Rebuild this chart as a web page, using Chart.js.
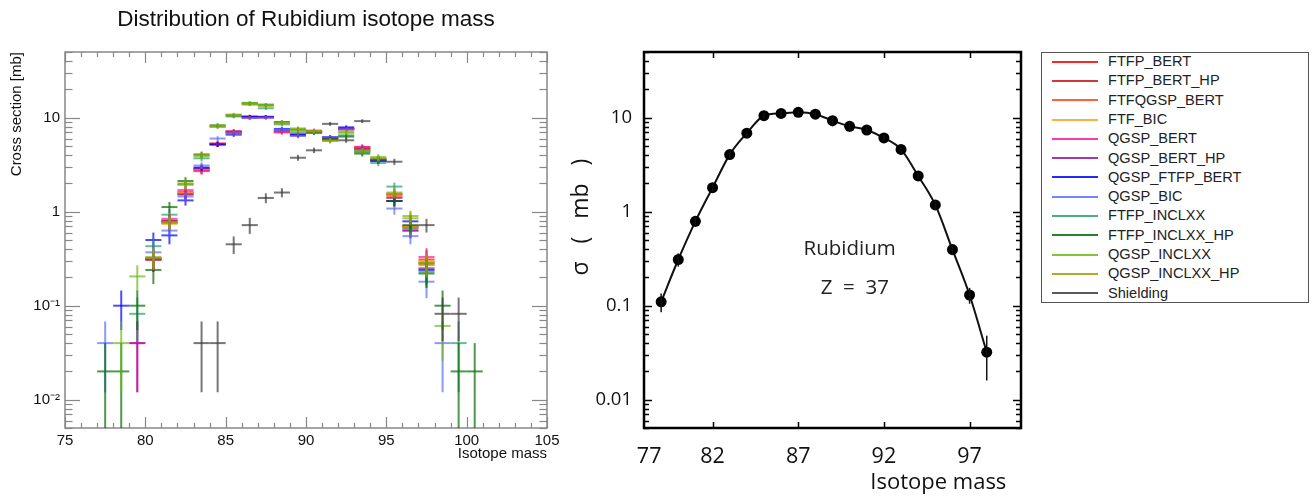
<!DOCTYPE html>
<html>
<head>
<meta charset="utf-8">
<script src="https://cdn.jsdelivr.net/npm/chart.js@4.4.1/dist/chart.umd.min.js"></script>
<style>
  body { margin: 0; width: 1312px; height: 499px; background: #fff; position: relative; overflow: hidden; }
  #left { position: absolute; left: 0; top: 0; }
  #right { position: absolute; left: 560px; top: 0; }
  #legend {
    position: absolute; left: 1041px; top: 52px; width: 268px; height: 251px;
    box-sizing: border-box; border: 1px solid #555;
    font-family: "Liberation Sans", Arial, sans-serif; font-size: 14.6px; color: #222;
  }
  #legend .row { position: absolute; left: 0; height: 19.3px; width: 100%; }
  #legend .swatch { position: absolute; left: 10px; top: 8.6px; width: 46px; height: 2px; }
  #legend .name { position: absolute; left: 66px; top: 0; line-height: 19.3px; white-space: nowrap; }
</style>
</head>
<body>
<canvas id="left" width="570" height="499"></canvas>
<canvas id="right" width="475" height="499"></canvas>
<div id="legend"></div>
<script>
// left panel: simulated Rb isotope distribution (bins centred on x.5)
const binCenters = [77.5, 78.5, 79.5, 80.5, 81.5, 82.5, 83.5, 84.5, 85.5, 86.5, 87.5, 88.5,
                    89.5, 90.5, 91.5, 92.5, 93.5, 94.5, 95.5, 96.5, 97.5, 98.5, 99.5, 100.5];
const binWidth = 1;

const ftfpBert       = [null,null,null,0.31,0.80,1.62,2.80,5.3,7.0,10.1,10.1,7.1,6.6,7.2,6.1,7.6,4.85,3.5,1.5,0.70,0.31,null,null,null];
const ftfpBertErr    = [null,null,null,0.08,0.13,0.18,0.24,0.33,0.37,0.45,0.45,0.38,0.36,0.38,0.35,0.39,0.31,0.26,0.17,0.12,0.08,null,null,null];
const ftfpBertHp     = [null,null,null,0.31,0.78,1.55,2.75,5.2,6.9,10.0,10.1,7.2,6.5,7.1,6.0,7.5,4.7,3.5,1.3,0.68,0.28,null,null,null];
const ftfpBertHpErr  = [null,null,null,0.08,0.12,0.18,0.23,0.32,0.37,0.45,0.45,0.38,0.36,0.38,0.35,0.39,0.31,0.26,0.16,0.12,0.07,null,null,null];
const ftfqgspBert    = [null,null,null,0.32,0.76,1.58,2.85,5.25,7.0,10.2,10.2,7.0,6.6,7.2,6.0,7.6,4.8,3.5,1.45,0.70,0.29,null,null,null];
const ftfqgspBertErr = [null,null,null,0.08,0.12,0.18,0.24,0.32,0.37,0.45,0.45,0.37,0.36,0.38,0.35,0.39,0.31,0.26,0.17,0.12,0.08,null,null,null];
const ftfBic         = [null,null,null,0.32,0.74,1.60,2.80,5.3,7.1,10.1,10.2,7.1,6.7,7.2,6.1,7.6,4.8,3.6,1.5,0.69,0.30,null,null,null];
const ftfBicErr      = [null,null,null,0.08,0.12,0.18,0.24,0.33,0.38,0.45,0.45,0.38,0.37,0.38,0.35,0.39,0.31,0.27,0.17,0.12,0.08,null,null,null];
const qgspBert       = [null,null,0.04,0.32,0.84,1.70,2.70,5.3,7.2,10.1,10.1,7.0,6.6,7.3,6.1,7.7,4.9,3.5,1.55,0.63,0.33,null,null,null];
const qgspBertErr    = [null,null,0.028,0.08,0.13,0.18,0.23,0.33,0.38,0.45,0.45,0.37,0.36,0.38,0.35,0.39,0.31,0.26,0.18,0.11,0.08,null,null,null];
const qgspBertHp     = [null,null,0.04,0.31,0.80,1.52,2.90,5.2,7.1,10.2,10.2,7.3,6.5,7.0,6.1,7.6,4.7,3.5,1.4,0.63,0.25,null,null,null];
const qgspBertHpErr  = [null,null,0.028,0.08,0.13,0.17,0.24,0.32,0.38,0.45,0.45,0.38,0.36,0.37,0.35,0.39,0.31,0.26,0.17,0.11,0.07,null,null,null];
const qgspFtfpBert   = [null,0.10,null,0.50,0.56,1.32,2.95,5.2,6.6,10.3,10.2,7.6,6.6,7.0,6.2,7.9,4.5,3.5,1.3,0.79,0.24,null,null,null];
const qgspFtfpBertErr= [null,0.045,null,0.10,0.11,0.16,0.24,0.32,0.36,0.45,0.45,0.39,0.36,0.37,0.35,0.40,0.30,0.26,0.16,0.13,0.07,null,null,null];
const qgspBic        = [0.04,null,null,0.37,0.63,1.45,3.1,6.0,6.8,9.9,10.0,7.4,6.4,7.0,6.2,7.5,4.4,3.6,1.08,0.55,0.18,0.04,null,null];
const qgspBicErr     = [0.028,null,null,0.09,0.11,0.17,0.25,0.35,0.37,0.44,0.45,0.38,0.36,0.37,0.35,0.39,0.30,0.27,0.15,0.10,0.06,0.028,null,null];
const ftfpInclxx     = [null,null,0.082,0.43,0.93,1.95,3.7,8.0,10.3,13.8,12.6,8.5,7.0,6.9,5.8,6.5,4.3,3.3,1.85,0.66,0.23,null,0.04,null];
const ftfpInclxxErr  = [null,null,0.04,0.09,0.14,0.20,0.27,0.40,0.45,0.53,0.50,0.41,0.37,0.37,0.34,0.36,0.29,0.26,0.19,0.11,0.07,null,0.028,null];
const ftfpInclxxHp   = [0.02,0.02,0.10,0.24,1.12,2.12,4.07,8.3,10.6,14.3,13.7,9.0,7.5,7.0,5.9,6.3,4.15,3.6,1.3,0.72,0.22,0.10,0.02,0.02];
const ftfpInclxxHpErr= [0.02,0.02,0.045,0.07,0.15,0.21,0.29,0.41,0.46,0.53,0.52,0.42,0.39,0.37,0.34,0.35,0.29,0.27,0.16,0.12,0.066,0.045,0.02,0.02];
const qgspInclxx     = [null,0.04,0.205,0.33,0.78,1.95,3.9,8.2,10.8,14.4,13.8,8.8,7.7,7.2,5.65,6.9,4.5,3.82,1.6,0.90,0.285,0.061,null,null];
const qgspInclxxErr  = [null,0.028,0.064,0.08,0.125,0.20,0.28,0.40,0.46,0.54,0.52,0.42,0.39,0.38,0.34,0.37,0.30,0.28,0.18,0.13,0.075,0.035,null,null];
const qgspInclxxHp   = [null,null,null,0.32,0.76,2.0,4.0,8.1,10.6,14.0,13.3,8.7,7.3,7.1,5.7,7.1,4.4,3.7,1.55,0.85,0.27,null,null,null];
const qgspInclxxHpErr= [null,null,null,0.08,0.12,0.20,0.28,0.40,0.46,0.53,0.52,0.42,0.38,0.38,0.34,0.38,0.30,0.27,0.18,0.13,0.07,null,null,null];
const shielding      = [null,null,null,null,null,null,0.04,0.04,0.45,0.72,1.4,1.6,3.75,4.5,8.6,5.75,9.2,null,3.4,null,0.72,0.082,0.082,null];
const shieldingErr   = [null,null,null,null,null,null,0.028,0.028,0.095,0.14,0.17,0.18,0.27,0.30,0.41,0.34,0.43,null,0.26,null,0.12,0.04,0.04,null];

const seriesNames = ["FTFP_BERT", "FTFP_BERT_HP", "FTFQGSP_BERT", "FTF_BIC", "QGSP_BERT", "QGSP_BERT_HP",
  "QGSP_FTFP_BERT", "QGSP_BIC", "FTFP_INCLXX", "FTFP_INCLXX_HP", "QGSP_INCLXX", "QGSP_INCLXX_HP", "Shielding"];
const seriesValues = [ftfpBert, ftfpBertHp, ftfqgspBert, ftfBic, qgspBert, qgspBertHp,
  qgspFtfpBert, qgspBic, ftfpInclxx, ftfpInclxxHp, qgspInclxx, qgspInclxxHp, shielding];
const seriesErrors = [ftfpBertErr, ftfpBertHpErr, ftfqgspBertErr, ftfBicErr, qgspBertErr, qgspBertHpErr,
  qgspFtfpBertErr, qgspBicErr, ftfpInclxxErr, ftfpInclxxHpErr, qgspInclxxErr, qgspInclxxHpErr, shieldingErr];
const seriesRgb = ["255,0,0", "200,20,20", "255,70,20", "255,160,30", "255,20,160", "150,20,160",
  "0,0,255", "90,110,255", "40,160,110", "0,110,0", "110,185,20", "160,160,0", "60,60,60"];

const leftXTicks = [75, 80, 85, 90, 95, 100, 105];
const leftYTicks = [0.01, 0.1, 1, 10];
const leftYLabels = ["10\u207B\u00B2", "10\u207B\u00B9", "1", "10"];

// right panel: measured cross sections
const rMass  = [79, 80, 81, 82, 83, 84, 85, 86, 87, 88, 89, 90, 91, 92, 93, 94, 95, 96, 97, 98];
const rSigma = [0.11, 0.31, 0.79, 1.8, 4.05, 6.85, 10.5, 11.1, 11.4, 10.9, 9.3, 8.1, 7.4, 6.1, 4.6, 2.4, 1.18, 0.395, 0.13, 0.032];
const rErr   = [0.025, 0.05, 0.1, 0.2, 0.35, 0.5, 0.7, 0.7, 0.7, 0.7, 1.2, 1.0, 0.6, 0.5, 0.4, 0.2, 0.13, 0.05, 0.025, 0.016];
const rXTickPos = [78.3, 82, 87, 92, 97];
const rXTickLabels = ["77", "82", "87", "92", "97"];
const rXMarks = [82, 87, 92, 97];
const rYTicks = [0.01, 0.1, 1, 10];
const rYLabels = ["0.01", "0.1", "1", "10"];
const noteText = ["Rubidium", "Z  =  37"];
const noteX = [90, 90.3];
const noteY = [0.395, 0.155];

const sans = '"Liberation Sans", Arial, sans-serif';
const rfont = '"Open Sans", "Liberation Sans", sans-serif';

// frame with inward ticks, ROOT style
const framePlugin = {
  id: "frame",
  afterDatasetsDraw(chart, args, o) {
    const { ctx, chartArea: a, scales: { x, y } } = chart;
    const seg = (x0, y0, x1, y1) => { ctx.beginPath(); ctx.moveTo(x0, y0); ctx.lineTo(x1, y1); ctx.stroke(); };
    ctx.save();
    ctx.strokeStyle = o.color;
    ctx.lineWidth = o.tickWidth;
    for (let d = 0.001; d < 100; d *= 10) {
      for (let k = 1; k < 10; k++) {
        const v = k * d;
        if (v < y.min * 0.999 || v > y.max * 1.001) continue;
        const py = Math.round(y.getPixelForValue(v)) + 0.5;
        const len = k === 1 ? o.yMajor : o.yMinor;
        seg(a.left, py, a.left + len, py);
        seg(a.right, py, a.right - len, py);
      }
    }
    o.xMarks.forEach(v => {
      const px = Math.round(x.getPixelForValue(v)) + 0.5;
      const len = o.xMajorEvery && v % o.xMajorEvery === 0 ? o.xMajor : o.xMinor;
      seg(px, a.bottom, px, a.bottom - len);
      seg(px, a.top, px, a.top + len);
    });
    ctx.lineWidth = o.width;
    ctx.strokeRect(a.left, a.top, a.right - a.left, a.bottom - a.top);
    ctx.restore();
  }
};

const errorBars = {
  id: "errorBars",
  afterDatasetsDraw(chart, args, o) {
    const { ctx, chartArea: a, scales: { x, y } } = chart;
    ctx.save();
    ctx.beginPath();
    ctx.rect(a.left, a.top, a.right - a.left, a.bottom - a.top);
    ctx.clip();
    chart.data.datasets.forEach((ds, i) => {
      ctx.strokeStyle = o.color || ds.borderColor;
      ctx.lineWidth = o.width;
      ds.data.forEach(p => {
        if (!p.e) return;
        const px = x.getPixelForValue(p.x);
        const lo = p.y - p.e;
        const y0 = lo > 0 ? y.getPixelForValue(lo) : a.bottom;
        const y1 = y.getPixelForValue(p.y + p.e);
        ctx.beginPath(); ctx.moveTo(px, y0); ctx.lineTo(px, y1); ctx.stroke();
      });
    });
    ctx.restore();
  }
};

const notesPlugin = {
  id: "notes",
  afterDatasetsDraw(chart, args, o) {
    const { ctx, scales: { x, y } } = chart;
    ctx.save();
    ctx.font = o.font;
    ctx.fillStyle = o.color;
    ctx.textAlign = "center";
    ctx.textBaseline = "middle";
    noteText.forEach((t, i) => ctx.fillText(t, x.getPixelForValue(noteX[i]), y.getPixelForValue(noteY[i])));
    ctx.restore();
  }
};

const leftMinorTicks = [];
for (let v = 75; v <= 105; v++) leftMinorTicks.push(v);

const halfBin = c => {
  const s = c.chart.scales.x;
  return Math.abs(s.getPixelForValue(binWidth) - s.getPixelForValue(0)) / 2;
};

new Chart(document.getElementById("left"), {
  type: "line",
  data: {
    datasets: seriesNames.map((name, i) => ({
      label: name,
      data: binCenters.map((b, j) => ({ x: b, y: seriesValues[i][j], e: seriesErrors[i][j] })).filter(p => p.y != null),
      borderColor: "rgba(" + seriesRgb[i] + ",0.7)",
      pointBorderColor: "rgba(" + seriesRgb[i] + ",0.7)",
      showLine: false,
      pointStyle: "line",
      pointRadius: halfBin,
      pointHoverRadius: halfBin,
      pointBorderWidth: 2,
      order: seriesNames.length - i
    }))
  },
  options: {
    responsive: false,
    animation: false,
    layout: { padding: { left: 0, right: 23, top: 0, bottom: 0 } },
    plugins: {
      legend: { display: false },
      tooltip: { enabled: false },
      title: {
        display: true, text: "Distribution of Rubidium isotope mass", fullSize: false,
        font: { family: sans, size: 22.5, weight: "normal" }, color: "#111",
        padding: { top: 6.5, bottom: 18.5 }
      },
      frame: { color: "#888", width: 1.5, tickWidth: 1.2, yMajor: 15, yMinor: 7.5,
               xMarks: leftMinorTicks, xMajorEvery: 5, xMajor: 11, xMinor: 5 },
      errorBars: { width: 2 }
    },
    scales: {
      x: {
        type: "linear", min: 75, max: 105,
        afterBuildTicks: s => { s.ticks = leftXTicks.map(v => ({ value: v })); },
        afterFit: s => { s.height = 71; },
        grid: { display: false, drawTicks: false }, border: { display: false },
        ticks: { font: { family: sans, size: 15 }, color: "#111", padding: 4, maxRotation: 0, autoSkip: false },
        title: { display: true, text: "Isotope mass", align: "end", color: "#111",
                 font: { family: sans, size: 15 }, padding: { top: 0, bottom: 36 } }
      },
      y: {
        type: "logarithmic", min: 0.005, max: 50,
        afterBuildTicks: s => { s.ticks = leftYTicks.map(v => ({ value: v })); },
        afterFit: s => { s.width = 65; },
        grid: { display: false, drawTicks: false }, border: { display: false },
        ticks: { callback: (v, i) => leftYLabels[i], font: { family: sans, size: 15 }, color: "#111", padding: 5, autoSkip: false },
        title: { display: true, text: "Cross section [mb]", align: "end", color: "#111",
                 font: { family: sans, size: 15 }, padding: { top: 7.5, bottom: 0 } }
      }
    }
  },
  plugins: [framePlugin, errorBars]
});

new Chart(document.getElementById("right"), {
  type: "line",
  data: {
    datasets: [{
      label: "Rubidium",
      data: rMass.map((m, i) => ({ x: m, y: rSigma[i], e: rErr[i] })),
      borderColor: "#111",
      borderWidth: 2,
      cubicInterpolationMode: "monotone",
      pointRadius: 5.5,
      pointHoverRadius: 5.5,
      pointBackgroundColor: "#000",
      pointBorderColor: "#000",
      pointBorderWidth: 0
    }]
  },
  options: {
    responsive: false,
    animation: false,
    layout: { padding: { left: 0, right: 14, top: 52, bottom: 0 } },
    plugins: {
      legend: { display: false },
      tooltip: { enabled: false },
      frame: { color: "#000", width: 2.5, tickWidth: 1.5, yMajor: 8, yMinor: 5,
               xMarks: rXMarks, xMajorEvery: 0, xMajor: 6, xMinor: 6 },
      errorBars: { width: 1.5, color: "#111" },
      notes: { font: "20.5px " + rfont, color: "#222" }
    },
    scales: {
      x: {
        type: "linear", min: 78, max: 100,
        afterBuildTicks: s => { s.ticks = rXTickPos.map(v => ({ value: v })); },
        afterFit: s => { s.height = 71; },
        grid: { display: false, drawTicks: false }, border: { display: false },
        ticks: { callback: (v, i) => rXTickLabels[i], font: { family: rfont, size: 21.5 }, color: "#111",
                 padding: 16, maxRotation: 0, autoSkip: false },
        title: { display: true, text: "Isotope mass\u2002\u2009", align: "end", color: "#111",
                 font: { family: rfont, size: 22 }, padding: { top: 0, bottom: 3 } }
      },
      y: {
        type: "logarithmic", min: 0.005, max: 50,
        afterBuildTicks: s => { s.ticks = rYTicks.map(v => ({ value: v })); },
        afterFit: s => { s.width = 84; },
        grid: { display: false, drawTicks: false }, border: { display: false },
        ticks: { callback: (v, i) => rYLabels[i], font: { family: rfont, size: 18.5 }, color: "#111", padding: 12, autoSkip: false },
        title: { display: true, text: "\u2003\u2003\u03C3   (   mb   )", color: "#111",
                 font: { family: rfont, size: 23 }, padding: { top: 8, bottom: 0 } }
      }
    }
  },
  plugins: [framePlugin, errorBars, notesPlugin]
});

// legend box for the left panel
const legendBox = document.getElementById("legend");
seriesNames.forEach((name, i) => {
  const row = document.createElement("div");
  row.className = "row";
  row.style.top = (-0.95 + 19.3 * i) + "px";
  const sw = document.createElement("span");
  sw.className = "swatch";
  sw.style.background = "rgba(" + seriesRgb[i] + ",0.85)";
  const label = document.createElement("span");
  label.className = "name";
  label.textContent = name;
  row.appendChild(sw);
  row.appendChild(label);
  legendBox.appendChild(row);
});
</script>
</body>
</html>
